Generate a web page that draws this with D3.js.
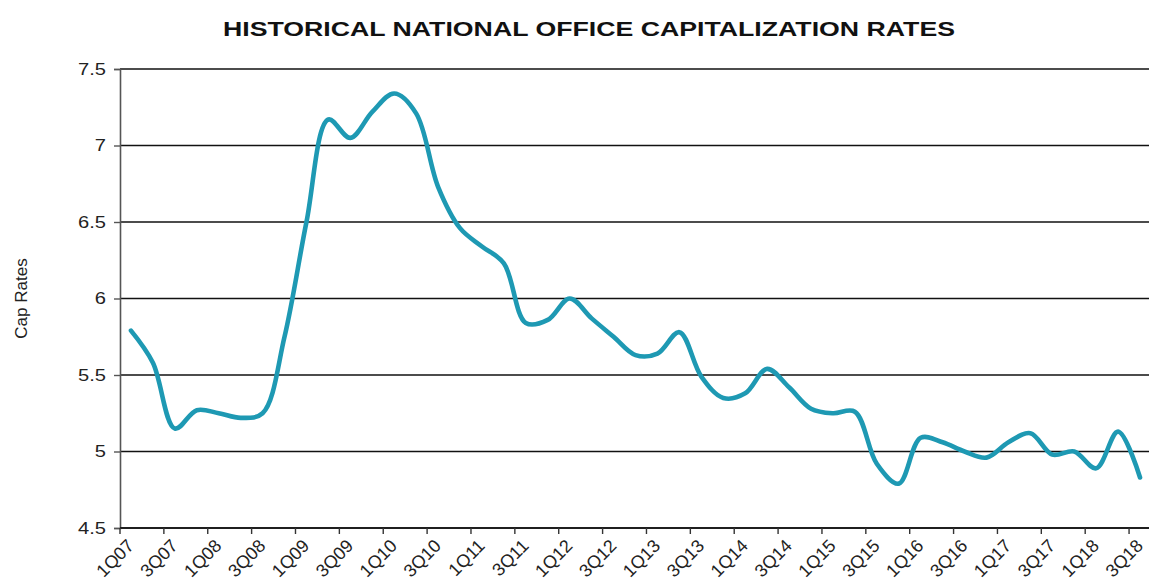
<!DOCTYPE html>
<html>
<head>
<meta charset="utf-8">
<script src="https://cdn.jsdelivr.net/npm/d3@7"></script>
<style>
  html, body { margin: 0; padding: 0; background: #fff; overflow: hidden; }
  svg { display: block; font-family: "Liberation Sans", Arial, sans-serif; }
</style>
</head>
<body>
<svg id="chart" width="1149" height="585"></svg>
<script>
// Quarterly national office cap rates, 1Q07 through 3Q18
const quarters = [
  "1Q07","2Q07","3Q07","4Q07","1Q08","2Q08","3Q08","4Q08",
  "1Q09","2Q09","3Q09","4Q09","1Q10","2Q10","3Q10","4Q10",
  "1Q11","2Q11","3Q11","4Q11","1Q12","2Q12","3Q12","4Q12",
  "1Q13","2Q13","3Q13","4Q13","1Q14","2Q14","3Q14","4Q14",
  "1Q15","2Q15","3Q15","4Q15","1Q16","2Q16","3Q16","4Q16",
  "1Q17","2Q17","3Q17","4Q17","1Q18","2Q18","3Q18"
];
const capRates = [
  5.79, 5.58, 5.15, 5.27, 5.25, 5.22, 5.25, 5.75,
  6.50, 7.17, 7.05, 7.22, 7.34, 7.21, 6.73, 6.46,
  6.34, 6.23, 5.84, 5.86, 6.00, 5.87, 5.75, 5.63,
  5.64, 5.78, 5.49, 5.35, 5.38, 5.54, 5.42, 5.28,
  5.25, 5.26, 4.92, 4.79, 5.09, 5.06, 5.00, 4.96,
  5.06, 5.12, 4.98, 5.00, 4.89, 5.13, 4.83
];
const yTicks = [4.5, 5, 5.5, 6, 6.5, 7, 7.5];
const title = "HISTORICAL NATIONAL OFFICE CAPITALIZATION RATES";
const yTitle = "Cap Rates";

const svg = d3.select("#chart");
const margin = { left: 120, top: 69, bottom: 528, right: 1151 };
const stretch = 1.22; // wide lettering used for the title and value labels

const x = d3.scaleBand()
  .domain(quarters)
  .range([margin.left, margin.right])
  .paddingInner(0).paddingOuter(0);

const y = d3.scaleLinear()
  .domain([4.5, 7.5])
  .range([margin.bottom, margin.top]);

// Title
svg.append("text")
  .attr("x", 589).attr("y", 36)
  .attr("text-anchor", "middle")
  .attr("font-size", 21)
  .attr("font-weight", "bold")
  .attr("fill", "#111")
  .attr("textLength", 732)
  .attr("lengthAdjust", "spacingAndGlyphs")
  .text(title);

// Horizontal gridlines
svg.append("g")
  .selectAll("line")
  .data(yTicks)
  .join("line")
  .attr("x1", margin.left).attr("x2", margin.right)
  .attr("y1", d => y(d)).attr("y2", d => y(d))
  .attr("stroke", "#111")
  .attr("stroke-width", 1.6);

// Left axis
const yAxis = d3.axisLeft(y)
  .tickValues(yTicks)
  .tickSize(6)
  .tickPadding(8)
  .tickFormat(d3.format("~g"));
const gy = svg.append("g")
  .attr("transform", `translate(${margin.left},0)`)
  .call(yAxis);
gy.select(".domain").attr("stroke", "#555").attr("stroke-width", 1.6);
gy.selectAll(".tick line").attr("stroke", "#555").attr("stroke-width", 1.4);
gy.selectAll(".tick text")
  .attr("font-size", 16.5)
  .attr("fill", "#222")
  .attr("font-family", "Liberation Sans, Arial, sans-serif")
  .attr("x", -14 / stretch)
  .attr("transform", `scale(${stretch},1)`);

// Bottom axis: ticks at every other category boundary, labels at category centers
const boundaries = quarters.filter((q, i) => i % 2 === 0);
const gx = svg.append("g");
gx.append("line")
  .attr("x1", margin.left).attr("x2", margin.right)
  .attr("y1", y(4.5)).attr("y2", y(4.5))
  .attr("stroke", "#111").attr("stroke-width", 1.6);
gx.selectAll("line.tk")
  .data(boundaries)
  .join("line")
  .attr("class", "tk")
  .attr("x1", d => x(d)).attr("x2", d => x(d))
  .attr("y1", y(4.5)).attr("y2", y(4.5) + 6)
  .attr("stroke", "#333").attr("stroke-width", 1.4);
gx.selectAll("text")
  .data(boundaries)
  .join("text")
  .attr("transform", d => `translate(${x(d) + x.bandwidth() / 2 + 4},${y(4.5) + 19}) rotate(-45)`)
  .attr("text-anchor", "end")
  .attr("font-size", 18)
  .attr("fill", "#222")
  .text(d => d);

// Y axis title
svg.append("text")
  .attr("transform", `translate(27,${(margin.top + margin.bottom) / 2}) rotate(-90)`)
  .attr("text-anchor", "middle")
  .attr("font-size", 17)
  .attr("fill", "#222")
  .text(yTitle);

// Smoothed cap-rate line
const line = d3.line()
  .x((d, i) => x(quarters[i]) + x.bandwidth() / 2)
  .y(d => y(d))
  .curve(d3.curveCatmullRom.alpha(0.5));

svg.append("path")
  .datum(capRates)
  .attr("d", line)
  .attr("fill", "none")
  .attr("stroke", "#1e99b3")
  .attr("stroke-width", 4.6)
  .attr("stroke-linejoin", "round")
  .attr("stroke-linecap", "round");
</script>
</body>
</html>
